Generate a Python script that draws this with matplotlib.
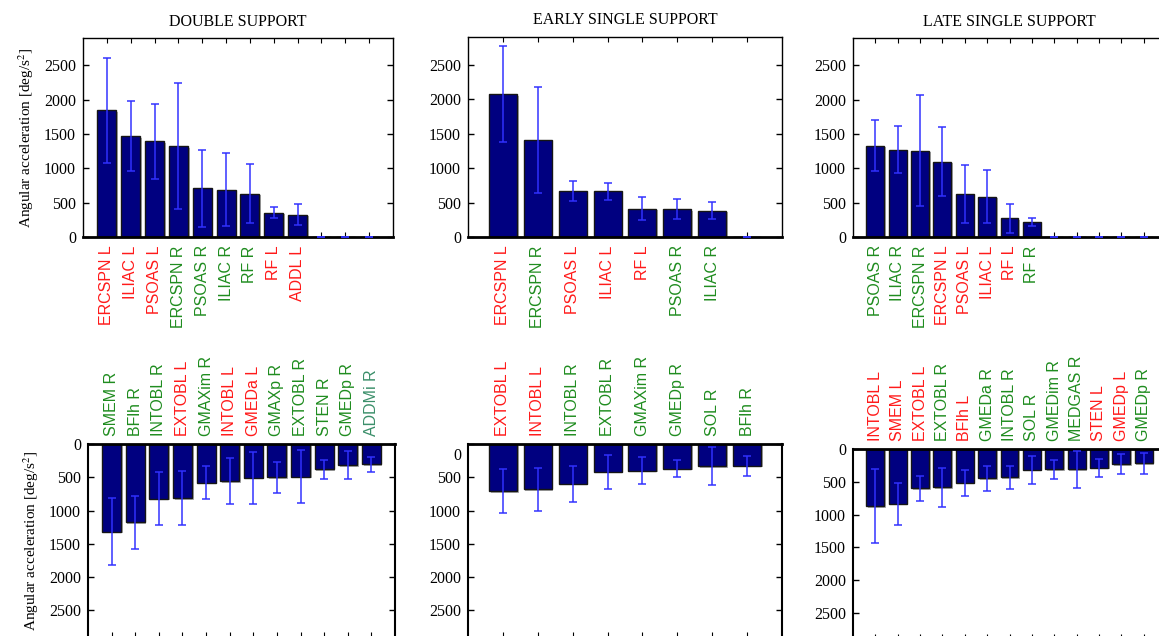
import matplotlib
matplotlib.use("Agg")
import matplotlib.pyplot as plt
import matplotlib.patheffects as pe

plt.rcParams["font.family"] = "Liberation Serif"
plt.rcParams["mathtext.fontset"] = "stix"

# Peak angular acceleration per muscle (deg/s^2), mean and SD, by gait phase.
# Top row: positive contributions, bottom row: negative contributions.
ds_pos_names = ["ERCSPN L", "ILIAC L", "PSOAS L", "ERCSPN R", "PSOAS R", "ILIAC R",
                "RF R", "RF L", "ADDL L", "", "", ""]
ds_pos_mean = [1845, 1471, 1393, 1325, 709, 689, 631, 354, 325, 0, 0, 0]
ds_pos_sd = [762, 515, 544, 922, 558, 534, 427, 83, 156, 0, 0, 0]

ess_pos_names = ["ERCSPN L", "ERCSPN R", "PSOAS L", "ILIAC L", "RF L", "PSOAS R",
                 "ILIAC R", ""]
ess_pos_mean = [2073, 1408, 670, 660, 413, 403, 383, 0]
ess_pos_sd = [694, 772, 145, 126, 170, 145, 127, 0]

lss_pos_names = ["PSOAS R", "ILIAC R", "ERCSPN R", "ERCSPN L", "PSOAS L", "ILIAC L",
                 "RF L", "RF R", "", "", "", "", ""]
lss_pos_mean = [1330, 1272, 1257, 1097, 626, 587, 272, 223, 0, 0, 0, 0, 0]
lss_pos_sd = [369, 340, 811, 500, 418, 389, 213, 59, 0, 0, 0, 0, 0]

ds_neg_names = ["SMEM R", "BFlh R", "INTOBL R", "EXTOBL L", "GMAXim R", "INTOBL L",
                "GMEDa L", "GMAXp R", "EXTOBL R", "STEN R", "GMEDp R", "ADDMi R"]
ds_neg_mean = [1315, 1175, 822, 812, 583, 562, 507, 500, 492, 382, 315, 305]
ds_neg_sd = [500, 400, 398, 407, 248, 347, 392, 235, 402, 148, 215, 115]

ess_neg_names = ["EXTOBL L", "INTOBL L", "INTOBL R", "EXTOBL R", "GMAXim R",
                 "GMEDp R", "SOL R", "BFlh R"]
ess_neg_mean = [705, 683, 595, 418, 400, 370, 330, 328]
ess_neg_sd = [325, 328, 270, 258, 200, 125, 290, 152]

lss_neg_names = ["INTOBL L", "SMEM L", "EXTOBL L", "EXTOBL R", "BFlh L", "GMEDa R",
                 "INTOBL R", "SOL R", "GMEDim R", "MEDGAS R", "STEN L", "GMEDp L",
                 "GMEDp R"]
lss_neg_mean = [874, 833, 599, 584, 513, 450, 432, 315, 310, 307, 287, 228, 221]
lss_neg_sd = [564, 320, 193, 300, 198, 195, 173, 213, 142, 282, 140, 157, 165]

titles = ["DOUBLE SUPPORT", "EARLY SINGLE SUPPORT", "LATE SINGLE SUPPORT"]
y_ticks = [0, 500, 1000, 1500, 2000, 2500]
Y_MAX = 2900

LEFT_COLOR = "#ff1a1a"
RIGHT_COLOR = "#1f8c1f"
SPECIAL_COLORS = {"ADDMi R": "#3b8f6a"}

W, H = 1159, 636


def rect(left, top, width, height):
    """Axes rectangle from a pixel box measured from the top-left corner."""
    return [left / W, 1 - (top + height) / H, width / W, height / H]


def label_color(name):
    if name in SPECIAL_COLORS:
        return SPECIAL_COLORS[name]
    return LEFT_COLOR if name.endswith(" L") else RIGHT_COLOR


def draw_panel(ax, names, means, sds, hanging):
    x = list(range(1, len(names) + 1))
    bars = ax.bar(x, means, width=0.8, color="#000080", edgecolor="#151515",
                  linewidth=1.0, zorder=2)
    for b in bars:
        b.set_path_effects([pe.SimplePatchShadow(offset=(1.2, -1.2),
                                                 shadow_rgbFace="0.55", alpha=0.7),
                            pe.Normal()])
    ax.errorbar(x, means, yerr=sds, fmt="none", ecolor="#3030ff", elinewidth=1.2,
                capsize=3, capthick=1.2, zorder=3, alpha=0.9)

    ax.set_xlim(0, len(names) + 1)
    ax.set_xticks(x)
    ax.set_yticks(y_ticks)
    ax.tick_params(axis="both", direction="in", top=True, right=True,
                   labelsize=11.5)
    ax.tick_params(axis="x", length=3.5, width=0.8, pad=6)
    ax.tick_params(axis="y", length=4, width=1.0, pad=5)

    if hanging:
        # negative contributions hang down from zero, names go above the axes
        ax.set_ylim(Y_MAX, 0)
        ax.tick_params(axis="x", labeltop=True, labelbottom=False)
        ax.set_xticklabels(names, rotation=90, family="Liberation Sans",
                           fontsize=11.5, va="bottom")
        labels = [t.label2 for t in ax.xaxis.get_major_ticks()]
        ax.spines["top"].set_linewidth(2.0)
        ax.spines["left"].set_linewidth(1.5)
        ax.spines["right"].set_linewidth(1.5)
        ax.spines["bottom"].set_linewidth(1.0)
    else:
        ax.set_ylim(0, Y_MAX)
        ax.set_xticklabels(names, rotation=90, family="Liberation Sans",
                           fontsize=11.5, va="top")
        labels = [t.label1 for t in ax.xaxis.get_major_ticks()]
        ax.spines["bottom"].set_linewidth(2.0)
        for s in ("top", "left", "right"):
            ax.spines[s].set_linewidth(1.0)

    for t, name in zip(labels, names):
        t.set_color(label_color(name))
        t.set_rotation(90)
        t.set_fontfamily("Liberation Sans")
        t.set_fontsize(11.5)


fig = plt.figure(figsize=(W / 100, H / 100), dpi=100)

top_axes = [
    fig.add_axes(rect(83, 38, 310, 199)),
    fig.add_axes(rect(468, 37, 314, 200)),
    fig.add_axes(rect(853, 38, 313, 199)),
]
bottom_axes = [
    fig.add_axes(rect(88, 444, 307, 193)),
    fig.add_axes(rect(468, 444, 314, 193)),
    fig.add_axes(rect(853, 449, 313, 190)),
]

top_data = [(ds_pos_names, ds_pos_mean, ds_pos_sd),
            (ess_pos_names, ess_pos_mean, ess_pos_sd),
            (lss_pos_names, lss_pos_mean, lss_pos_sd)]
bottom_data = [(ds_neg_names, ds_neg_mean, ds_neg_sd),
               (ess_neg_names, ess_neg_mean, ess_neg_sd),
               (lss_neg_names, lss_neg_mean, lss_neg_sd)]

for ax, (names, m, s), title in zip(top_axes, top_data, titles):
    draw_panel(ax, names, m, s, hanging=False)
    ax.set_title(title, fontsize=11.5, pad=9)

for ax, (names, m, s) in zip(bottom_axes, bottom_data):
    draw_panel(ax, names, m, s, hanging=True)

# the zero label on the middle lower panel sits a little below the axis line
mid = bottom_axes[1]
mid.set_yticklabels([""] + [str(v) for v in y_ticks[1:]])
mid.annotate("0", xy=(0, 0), xycoords=("axes fraction", "data"),
             xytext=(-5, -9), textcoords="offset points",
             ha="right", va="center", fontsize=11.5)

ylabel = r"Angular acceleration [deg/s$^2$]"
top_axes[0].set_ylabel(ylabel, fontsize=11, labelpad=6)
bottom_axes[0].set_ylabel(ylabel, fontsize=11, labelpad=6)

fig.savefig("out.png", dpi=100)
plt.close(fig)
